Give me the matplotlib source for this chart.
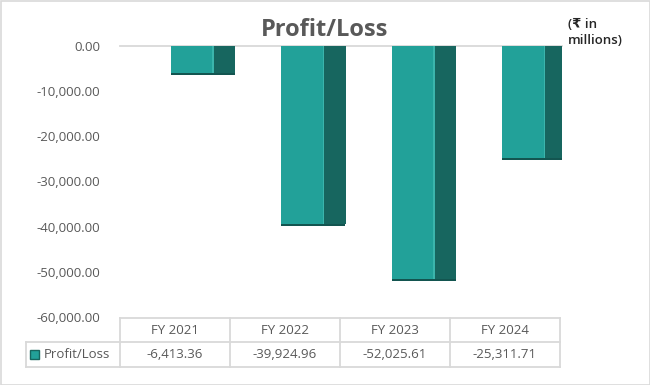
import numpy as np
import matplotlib.pyplot as plt
from matplotlib.patches import Rectangle

# chart data
years = ["FY 2021", "FY 2022", "FY 2023", "FY 2024"]
profit_loss = [-6413.36, -39924.96, -52025.61, -25311.71]
series_name = "Profit/Loss"
y_ticks = [0, -10000, -20000, -30000, -40000, -50000, -60000]

front_col = "#22A199"
side_col = "#17665F"
edge_col = "#135550"
grid_col = "#D9D9D9"
txt_col = "#595959"

plt.rcParams["font.family"] = ["Open Sans", "DejaVu Sans"]

fig = plt.figure(figsize=(6.5, 3.85), dpi=100)
fig.patch.set_facecolor("white")

# main plot area (pixels: x 120-562, y 46-317)
ax = fig.add_axes([120 / 650, 68 / 385, 442 / 650, 271 / 385])
x = np.arange(len(years))
vals = np.array(profit_loss)

# pseudo 3D columns: dark bottom rim, front face, side face
ax.bar(x - 0.041, vals, width=0.58, align="edge", color=edge_col, zorder=3)
ax.bar(x - 0.041, vals + 500, width=0.383, align="edge", color=front_col, zorder=4)
ax.bar(x + 0.342, vals + 500, width=0.199, align="edge", color=side_col, zorder=4)
ax.bar(x + 0.335, vals + 500, width=0.014, align="edge", color="#3BB5AC", zorder=5)

ax.set_xlim(-0.5, 3.5)
ax.set_ylim(-60000, 0)
ax.set_yticks(y_ticks)
ax.set_yticklabels([f"{v:,.2f}" for v in y_ticks], color=txt_col, fontsize=9.5)
ax.tick_params(axis="y", length=0, pad=14)
ax.set_xticks([])
for s in ax.spines.values():
    s.set_visible(False)
ax.axhline(0, color=grid_col, lw=1.3, zorder=2, clip_on=False)

# overlay in pixel coordinates for title, unit note, data table and border
ov = fig.add_axes([0, 0, 1, 1], facecolor="none")
ov.set_xlim(0, 650)
ov.set_ylim(385, 0)
ov.axis("off")

ov.add_patch(Rectangle((0.5, 0.5), 649, 384, fill=False, ec=grid_col, lw=1.2))
ov.text(325, 30, "Profit/Loss", ha="center", va="center", fontsize=17,
        fontweight="bold", color=txt_col)
ov.text(568, 33, "(\u20b9 in\nmillions)", ha="left", va="center", fontsize=9.5,
        fontweight="semibold", color="#262626", linespacing=1.3)

# data table
col_edges = [120, 230, 340, 449.5, 559.5]
top, mid, bot = 317.5, 342, 367
left = 25.5
tl = dict(color=grid_col, lw=1.3)
ov.plot([col_edges[0], col_edges[-1]], [top, top], **tl)
ov.plot([left, col_edges[-1]], [mid, mid], **tl)
ov.plot([left, col_edges[-1]], [bot, bot], **tl)
ov.plot([left, left], [mid, bot], **tl)
ov.plot([col_edges[0], col_edges[0]], [top, bot], **tl)
for ce in col_edges[1:]:
    ov.plot([ce, ce], [top, bot], **tl)

for i, yr in enumerate(years):
    cx = (col_edges[i] + col_edges[i + 1]) / 2
    ov.text(cx, (top + mid) / 2 + 1, yr, ha="center", va="center",
            fontsize=9.5, color=txt_col)
    ov.text(cx, (mid + bot) / 2, f"{profit_loss[i]:,.2f}", ha="center", va="center",
            fontsize=9.5, color=txt_col)

ov.add_patch(Rectangle((30, 350), 9, 9, fc=front_col, ec=side_col, lw=1))
ov.text(44, (mid + bot) / 2, series_name, ha="left", va="center",
        fontsize=9.5, color=txt_col)

fig.savefig("out.png", dpi=100)
